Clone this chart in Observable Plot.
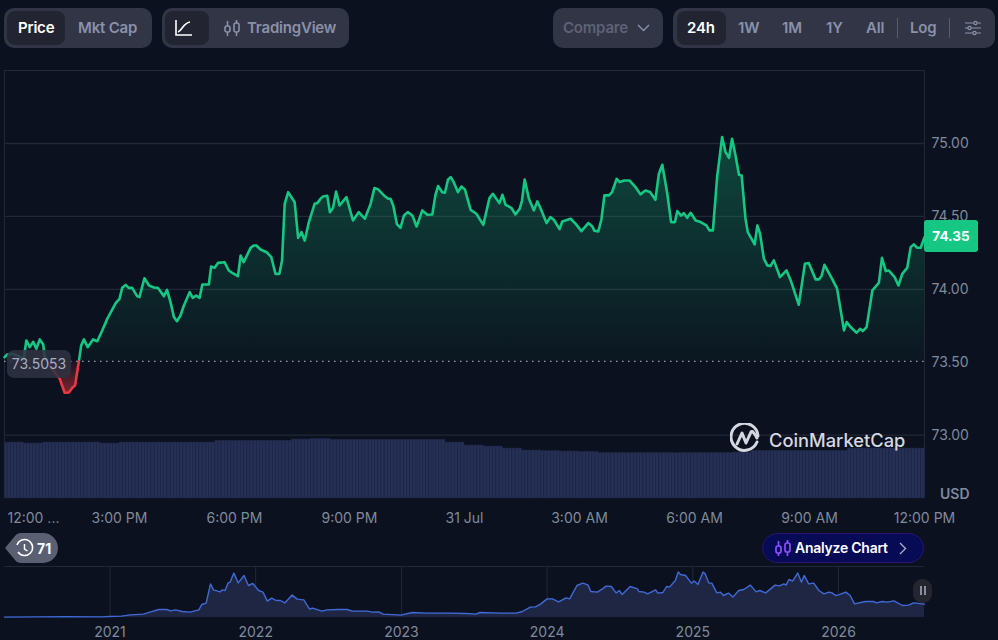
<!DOCTYPE html>
<html>
<head>
<meta charset="utf-8">
<script src="https://cdn.jsdelivr.net/npm/d3@7"></script>
<script src="https://cdn.jsdelivr.net/npm/@observablehq/plot@0.6"></script>
<style>
html,body{margin:0;padding:0;background:#0b111e;width:998px;height:640px;overflow:hidden;font-family:Inter,sans-serif}
.abs{position:absolute;box-sizing:border-box;white-space:nowrap}
.grp{background:#323546;border-radius:10px;top:8px;height:40px}
.act{background:#222531;border-radius:8px;top:11px;height:34px}
.t{top:8px;height:40px;line-height:40px;font-size:15px;font-weight:600;color:#8a91a8;letter-spacing:-.2px}
.w{color:#fff}
svg{display:block}
#c1,#c2,#c3{position:absolute;left:0}
</style>
</head>
<body>
<div id="c1" style="top:60px"></div>
<div id="c2" style="top:60px"></div>
<div id="c3" style="top:560px"></div>

<div class="abs grp" style="left:4px;width:148px"></div>
<div class="abs act" style="left:7px;width:58px"></div>
<div class="abs t w" style="left:18px">Price</div>
<div class="abs t" style="left:78px">Mkt Cap</div>
<div class="abs grp" style="left:162px;width:187px"></div>
<div class="abs act" style="left:165px;width:44px"></div>
<svg class="abs" style="left:175px;top:19px" width="18" height="18" fill="none" stroke="#fff" stroke-width="1.6"><path d="M1 1v15h16"/><path d="M3 13c4-1 5-9 12-10"/></svg>
<svg class="abs" style="left:224px;top:19px" width="16" height="18" fill="none" stroke="#8a91a8" stroke-width="1.6"><rect x="1" y="7" width="5" height="6" rx="2"/><rect x="10" y="4" width="5" height="9" rx="2"/><path d="M3.5 2v5M3.5 13v4M12.5 1v3M12.5 13v4"/></svg>
<div class="abs t" style="left:247px">TradingView</div>

<div class="abs grp" style="left:553px;width:110px"></div>
<div class="abs t" style="left:563px;color:#5d6277">Compare</div>
<svg class="abs" style="left:637px;top:24px" width="13" height="8" fill="none" stroke="#8a91a8" stroke-width="1.4"><path d="M1 1l5.5 5.5L12 1"/></svg>

<div class="abs grp" style="left:673px;width:322px"></div>
<div class="abs act" style="left:677px;width:49px"></div>
<div class="abs t w" style="left:687px">24h</div>
<div class="abs t" style="left:738px">1W</div>
<div class="abs t" style="left:782px">1M</div>
<div class="abs t" style="left:826px">1Y</div>
<div class="abs t" style="left:866px">All</div>
<div class="abs" style="left:897px;top:18px;width:1px;height:20px;background:#565b70"></div>
<div class="abs t" style="left:910px">Log</div>
<div class="abs" style="left:949px;top:18px;width:1px;height:20px;background:#565b70"></div>
<svg class="abs" style="left:965px;top:20px" width="16" height="16" fill="none" stroke="#8a91a8" stroke-width="1.2"><path d="M0 3h9M12 3h4M0 8h3M6 8h10M0 13h8M11 13h5"/><circle cx="10.5" cy="3" r="1.6"/><circle cx="4.5" cy="8" r="1.6"/><circle cx="9.5" cy="13" r="1.6"/></svg>

<div class="abs" style="left:7px;top:350px;width:64px;height:28px;line-height:28px;text-align:center;border-radius:7px;background:rgba(48,50,66,.86);color:#a9adbc;font-size:14px">73.5053</div>
<div class="abs" style="left:924px;top:220px;width:54px;height:32px;line-height:32px;text-align:center;border-radius:3px;background:#16c784;color:#fff;font-size:13.5px;font-weight:700">74.35</div>
<div class="abs" style="left:940px;top:485px;font-size:14px;font-weight:600;color:#808a9d">USD</div>

<svg class="abs" style="left:730px;top:423px" width="30" height="31" fill="none" stroke="#d5d8e0" stroke-width="3" stroke-linecap="round" stroke-linejoin="round"><path d="M27 19A13.500 13.500 0 1 1 28 13"/><path d="M7 21L12 10L16 20L21 9C22 7 25 11 27 15"/></svg>
<div class="abs" style="left:769px;top:428px;font-size:18.3px;font-weight:500;color:#d5d8e0;line-height:24px">CoinMarketCap</div>

<svg class="abs" style="left:5px;top:533px" width="53" height="30"><path d="M0 15L10 3Q12 0 16 0H38A15 15 0 0 1 38 30H16Q12 30 10 27Z" fill="#5a5f72"/><g fill="none" stroke="#fff" stroke-width="1.5"><path d="M12 12A8 8 0 1 1 13 19"/><path d="M19.500 11v5l3 2"/></g><text x="32" y="20.500" fill="#fff" font-size="14" font-weight="700" font-family="Inter">71</text></svg>

<div class="abs" style="left:762px;top:533px;width:162px;height:30px;border-radius:15px;background:#070a54;border:1px solid #2b1470"></div>
<svg class="abs" style="left:775px;top:540px" width="16" height="17" fill="none" stroke="#8a4fff" stroke-width="1.7"><rect x="1" y="6" width="5" height="7" rx="2"/><rect x="10" y="3" width="5" height="9" rx="2"/><path d="M3.500 1v5M3.500 13v3M12.500 0v3M12.500 12v4"/></svg>
<div class="abs" style="left:795px;top:533px;height:30px;line-height:30px;font-size:14px;font-weight:600;color:#fff;letter-spacing:-.25px">Analyze Chart</div>
<svg class="abs" style="left:899px;top:542px" width="8" height="13" fill="none" stroke="#b0b4c2" stroke-width="1.3"><path d="M1 1l5.500 5.500L1 12"/></svg>

<div class="abs" style="left:913px;top:579px;width:19px;height:24px;border-radius:9px;background:#24262f"></div>
<div class="abs" style="left:920px;top:586px;width:2px;height:9px;background:#8a8e9e"></div>
<div class="abs" style="left:924px;top:586px;width:2px;height:9px;background:#8a8e9e"></div>

<script>
// Price line: hours since 12:00 PM, 30 Jul -> 12:00 PM, 31 Jul
const hours = [0,.07,.2,.33,.5,.57,.66,.75,.83,.92,1.01,1.05,1.11,1.2,1.44,1.57,1.68,1.77,1.84,1.94,2,2.07,2.17,2.31,2.42,2.55,2.68,2.9,3,3.07,3.16,3.24,3.33,3.46,3.52,3.65,3.77,3.9,4,4.16,4.24,4.33,4.42,4.5,4.59,4.68,4.83,4.91,5,5.09,5.16,5.33,5.39,5.48,5.57,5.74,5.85,5.94,6.09,6.16,6.24,6.42,6.5,6.57,6.68,6.85,6.96,7.07,7.17,7.24,7.31,7.4,7.57,7.66,7.75,7.83,7.94,8.09,8.16,8.24,
8.31,8.42,8.49,8.57,8.65,8.74,8.92,9.09,9.24,9.4,9.55,9.65,9.74,9.9,10.01,10.07,10.14,10.24,10.33,10.42,10.52,10.64,10.75,10.9,11.03,11.16,11.24,11.31,11.42,11.49,11.57,11.64,11.72,11.83,11.92,12.01,12.16,12.31,12.49,12.65,12.74,12.91,12.99,13.07,13.22,13.33,13.44,13.5,13.57,13.68,13.81,13.9,13.98,14.14,14.24,14.33,14.48,14.55,14.77,14.9,15.05,15.23,15.33,15.39,15.49,15.57,15.65,15.77,15.85,15.97,16.05,16.16,16.31,16.46,16.59,
16.72,16.84,16.98,17.07,17.16,17.29,17.39,17.49,17.55,17.65,17.72,17.81,17.9,18.03,18.16,18.31,18.39,18.48,18.59,18.72,18.81,18.9,18.98,19.07,19.16,19.23,19.33,19.39,19.57,19.64,19.71,19.81,19.9,19.98,20.07,20.23,20.4,20.51,20.72,20.88,20.98,21.16,21.25,21.32,21.39,21.59,21.72,21.9,21.97,22.07,22.23,22.32,22.39,22.49,22.64,22.81,22.89,22.99,23.07,23.22,23.32,23.42,23.55,23.64,23.72,23.81,23.9,24];
const prices = [73.534,73.553,73.557,73.546,73.523,73.649,73.603,73.64,73.592,73.656,73.621,73.534,73.5053,73.466,73.386,73.29,73.292,73.324,73.34,73.5053,73.614,73.656,73.603,73.656,73.644,73.717,73.797,73.905,73.934,74.01,74.03,74.01,74.01,73.953,73.946,74.076,74.026,74.012,74.01,73.953,73.996,73.912,73.809,73.781,73.82,73.889,73.98,73.941,73.957,73.941,74.033,74.033,74.156,74.147,74.181,74.186,74.129,74.113,74.09,74.232,74.186,74.284,74.3,74.3,74.273,74.252,74.22,74.106,74.106,74.197,74.586,74.666,74.597,74.353,74.392,74.334,74.46,74.586,74.591,74.62,
74.637,74.641,74.529,74.557,74.671,74.575,74.632,74.472,74.529,74.484,74.586,74.694,74.687,74.644,74.621,74.621,74.575,74.445,74.422,74.506,74.529,74.506,74.431,74.541,74.511,74.513,74.644,74.708,74.666,74.662,74.753,74.769,74.735,74.666,74.705,74.685,74.545,74.518,74.442,74.625,74.655,74.591,74.648,74.58,74.559,74.513,74.552,74.609,74.753,74.621,74.541,74.603,74.557,74.454,74.495,74.477,74.413,74.465,74.484,74.449,74.399,74.454,74.433,74.401,74.397,74.477,74.644,74.644,74.666,74.758,74.735,74.746,74.746,74.701,74.651,
74.678,74.667,74.614,74.792,74.854,74.655,74.461,74.461,74.536,74.506,74.522,74.49,74.525,74.472,74.461,74.438,74.404,74.404,74.769,75.044,74.941,74.902,75.032,74.918,74.785,74.781,74.484,74.392,74.308,74.438,74.381,74.209,74.164,74.159,74.198,74.084,74.129,74.061,73.894,74.175,74.18,74.068,74.068,74.095,74.168,74.072,74.004,73.718,73.775,73.741,73.702,73.729,73.713,73.741,73.992,74.045,74.216,74.125,74.129,74.084,74.026,74.106,74.148,74.289,74.308,74.285,74.285,74.358];
const basePrice = 73.5053;
const redFrom = 1.11, redTo = 1.94;

// Volume: one reading per half hour, each covering six 5-minute bars
const volumeHalfHours = [56,55,56,56,56,55,56,56,56,56,56,57.7,57.7,57.7,57.7,59,59.5,58.7,58.7,58.7,58.7,58.7,58.7,56,53,52,50,48,47.3,47,46.5,45.3,45.3,45.3,45.3,45.3,45.3,45.5,46,47.7,47.7,47.7,47.7,47.7,50,50,50,50];

const priceTicks = [73,73.5,74,74.5,75];
const gridPrices = [73,74,74.5,75];
const timeTicks = [3,6,9,12,15,18,21,24];
const timeLabels = ["3:00 PM","6:00 PM","9:00 PM","31 Jul","3:00 AM","6:00 AM","9:00 AM","12:00 PM"];

// All-time overview
const navYears = [2020.276,2020.5,2020.7,2020.935,2021,2021.08,2021.14,2021.23,2021.28,2021.335,2021.39,2021.415,2021.45,2021.495,2021.55,2021.61,2021.63,2021.66,2021.69,2021.71,2021.755,2021.77,2021.79,2021.81,2021.825,2021.85,2021.88,2021.92,2021.95,2021.98,2022.02,2022.05,2022.08,2022.11,2022.14,2022.17,2022.2,2022.25,2022.285,2022.33,2022.37,2022.39,2022.455,2022.49,2022.56,2022.63,2022.66,2022.765,2022.8,2022.845,2022.875,2022.995,2023.075,2023.17,2023.315,2023.45,2023.51,2023.54,2023.68,2023.79,2023.83,2023.885,2023.92,2023.955,2024,2024.035,2024.08,2024.13,2024.155,2024.205,2024.245,2024.28,2024.3,2024.345,2024.38,2024.405,2024.44,2024.475,2024.495,2024.515,2024.57,2024.62,2024.63,2024.665,2024.69,2024.745,2024.76,2024.795,2024.82,2024.84,2024.88,2024.9,2024.915,2024.95,2024.99,2025.01,2025.035,2025.07,2025.085,2025.11,2025.13,2025.165,2025.19,2025.21,2025.245,2025.275,2025.315,2025.35,2025.395,2025.435,2025.46,2025.5,2025.565,2025.595,2025.625,2025.64,2025.66,2025.685,2025.72,2025.745,2025.765,2025.795,2025.83,2025.865,2025.9,2025.935,2025.955,2025.98,2026,2026.05,2026.08,2026.11,2026.185,2026.24,2026.26,2026.3,2026.335,2026.38,2026.44,2026.48,2026.515,2026.59];
const navValues = [2,3,3.5,3,5,7,13,17,28,40,40,33,38,30,27,38,65,72,168,138,128,138,135,172,177,222,173,210,160,170,135,127,82,97,85,85,73,112,92,88,42,47,32,38,40,40,32,32,27,28,17,12,25,22,22,20,17,25,22,22,30,52,53,67,93,93,78,98,93,160,172,163,130,127,143,157,155,122,135,115,155,143,130,127,118,138,122,125,155,152,185,228,215,210,172,182,165,227,218,172,172,123,127,110,122,102,135,140,162,128,135,123,162,158,168,162,190,182,222,177,210,168,172,135,118,127,123,110,113,127,110,68,80,80,73,80,77,83,60,62,73,67];
const navTicks = [2021,2022,2023,2024,2025,2026];

const price = hours.map((h,i)=>({h,p:prices[i]}));
const greenLine = price.filter(d=>d.h<=redFrom||d.h>=redTo).map(d=>({...d,part:d.h<=redFrom?0:1}));
const redLine = price.filter(d=>d.h>=redFrom&&d.h<=redTo);
const volume = volumeHalfHours.flatMap((v,i)=>d3.range(6).map(k=>({a:i/2+k/12,b:i/2+(k+1)/12,v})));
const nav = navYears.map((y,i)=>({y,v:navValues[i]}));

const W = 998, mL = 4, mR = 74;
const axisColor = "#808a9d";
const grid = "#222836";
const style = {background:"transparent",fontFamily:"Inter, sans-serif",fontSize:"14px",overflow:"visible"};
const axisText = {label:null,color:axisColor,tickSize:0,fontVariant:"normal"};

const grad = (id,color,o1,o2)=>()=>{
  const d=d3.create("svg:defs");
  const g=d.append("linearGradient").attr("id",id).attr("x1",0).attr("x2",0).attr("y1",0).attr("y2",1);
  g.append("stop").attr("offset",0).attr("stop-color",color).attr("stop-opacity",o1);
  g.append("stop").attr("offset",1).attr("stop-color",color).attr("stop-opacity",o2);
  return d.node();
};

document.getElementById("c1").append(Plot.plot({
  width:W,height:470,marginLeft:mL,marginRight:mR,marginTop:10,marginBottom:32,style,
  x:{domain:[0,24],axis:null},y:{domain:[0,428],axis:null},
  marks:[Plot.rectY(volume,{x1:"a",x2:"b",y:"v",fill:"#262f55",stroke:"#1e2643",strokeWidth:.5})]
}));

document.getElementById("c2").append(Plot.plot({
  width:W,height:470,marginLeft:mL,marginRight:mR,marginTop:10,marginBottom:32,style,
  x:{domain:[0,24]},y:{domain:[72.565,75.5007]},
  marks:[
    grad("gUp","#16c784",.3,.03),
    grad("gDn","#ea3943",.06,.5),
    Plot.ruleY(gridPrices,{stroke:grid,strokeWidth:1.3}),
    Plot.ruleY([75.5007],{stroke:grid}),
    Plot.ruleX([0,24],{stroke:grid}),
    Plot.areaY(price,{x:"h",y1:()=>basePrice,y2:d=>Math.max(d.p,basePrice),fill:"url(#gUp)"}),
    Plot.areaY(redLine,{x:"h",y1:()=>basePrice,y2:"p",fill:"url(#gDn)"}),
    Plot.ruleY([basePrice],{stroke:"#9a9eae",strokeWidth:1.4,strokeDasharray:"1.5 4.5"}),
    Plot.line(greenLine,{x:"h",y:"p",z:"part",stroke:"#16c784",strokeWidth:2.6}),
    Plot.line(redLine,{x:"h",y:"p",stroke:"#ea3943",strokeWidth:2.6}),
    Plot.axisY({...axisText,anchor:"right",ticks:priceTicks,tickPadding:7,tickFormat:d=>d.toFixed(2)}),
    Plot.axisX({...axisText,ticks:timeTicks,tickPadding:15,tickFormat:d=>timeLabels[timeTicks.indexOf(d)]}),
    Plot.axisX({...axisText,ticks:[0],tickPadding:15,tickFormat:()=>"12:00 ...",textAnchor:"start",dx:3})
  ]
}));

document.getElementById("c3").append(Plot.plot({
  width:W,height:80,marginLeft:mL,marginRight:mR,marginTop:6,marginBottom:23,style,
  x:{domain:[2020.276,2026.59]},y:{domain:[0,255],axis:null},
  marks:[
    Plot.ruleX(navTicks,{stroke:grid}),
    Plot.ruleY([255],{stroke:grid}),
    Plot.areaY(nav,{x:"y",y:"v",fill:"#1f2644"}),
    Plot.line(nav,{x:"y",y:"v",stroke:"#3f69d6",strokeWidth:1.4}),
    Plot.axisX({...axisText,ticks:navTicks,tickPadding:10,tickFormat:"d"})
  ]
}));
</script>
</body>
</html>
